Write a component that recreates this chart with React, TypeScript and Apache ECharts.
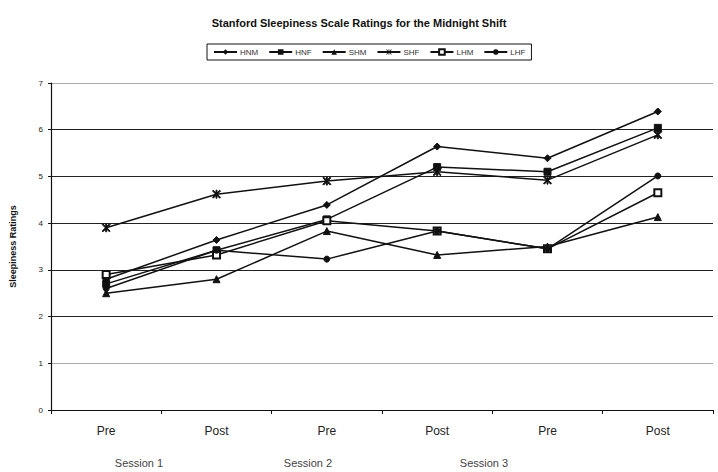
import React, { useEffect, useRef } from "react";
import * as echarts from "echarts";

const categories = ["Pre", "Post", "Pre", "Post", "Pre", "Post"];
const sessionLabels = ["Session 1", "Session 2", "Session 3"];
const yTicks = [0, 1, 2, 3, 4, 5, 6, 7];

const seriesNames = ["HNM", "HNF", "SHM", "SHF", "LHM", "LHF"];
const hnm = [2.8, 3.64, 4.39, 5.64, 5.39, 6.39];
const hnf = [2.7, 3.42, 4.08, 5.2, 5.1, 6.04];
const shm = [2.5, 2.8, 3.83, 3.32, 3.5, 4.13];
const shf = [3.9, 4.62, 4.9, 5.1, 4.92, 5.89];
const lhm = [2.9, 3.32, 4.05, 3.83, 3.45, 4.65];
const lhf = [2.6, 3.42, 3.23, 3.83, 3.45, 5.01];

const starPath =
  "path://M0,1 L1,0 L5,4 L9,0 L10,1 L6,5 L10,9 L9,10 L5,6 L1,10 L0,9 L4,5 Z M4.4,0 L5.6,0 L5.6,10 L4.4,10 Z";

export default function App() {
  const ref = useRef<HTMLDivElement>(null);
  useEffect(() => {
    document.body.style.margin = "0";
    if (!ref.current) return;
    const chart = echarts.init(ref.current, null, { renderer: "svg" });
    const values = [hnm, hnf, shm, shf, lhm, lhf];
    const symbols = ["diamond", "rect", "triangle", starPath, "emptyRect", "circle"];
    const sizes = [7, 7, 7, 8, 7, 6];
    const sessionX = [139, 308, 484];
    chart.setOption({
      animation: false,
      backgroundColor: "#fff",
      title: {
        text: "Stanford Sleepiness Scale Ratings for the Midnight Shift",
        left: "center",
        top: 12,
        textStyle: {
          fontFamily: "Liberation Sans, Arial, sans-serif",
          fontSize: 11,
          fontWeight: "bold",
          color: "#111",
        },
      },
      legend: {
        data: seriesNames,
        left: 207,
        top: 44,
        itemWidth: 23,
        itemHeight: 7,
        itemGap: 10,
        padding: [4, 6, 4, 6],
        borderColor: "#111",
        borderWidth: 1,
        textStyle: {
          fontFamily: "Liberation Sans, Arial, sans-serif",
          fontSize: 8,
          color: "#333",
          padding: [0, 0, 0, -2],
        },
      },
      grid: { left: 50, right: 5, top: 83, bottom: 62 },
      xAxis: {
        type: "category",
        data: categories,
        boundaryGap: true,
        axisLine: { lineStyle: { color: "#111", width: 1.2 } },
        axisTick: { show: true, length: 4, lineStyle: { color: "#111" } },
        axisLabel: {
          margin: 15,
          fontFamily: "Liberation Sans, Arial, sans-serif",
          fontSize: 12,
          color: "#222",
        },
      },
      yAxis: {
        type: "value",
        min: yTicks[0],
        max: yTicks[yTicks.length - 1],
        interval: 1,
        name: "Sleepiness Ratings",
        nameLocation: "middle",
        nameGap: 34,
        nameTextStyle: {
          fontFamily: "Liberation Sans, Arial, sans-serif",
          fontSize: 9,
          fontWeight: "bold",
          color: "#111",
        },
        axisLine: { show: true, lineStyle: { color: "#111", width: 1.2 } },
        axisTick: { show: true, length: 3, lineStyle: { color: "#111" } },
        axisLabel: {
          margin: 8,
          fontFamily: "Liberation Sans, Arial, sans-serif",
          fontSize: 8,
          color: "#222",
        },
        splitLine: {
          show: true,
          lineStyle: {
            color: ["#111", "#aaa", "#222", "#222", "#222", "#222", "#222", "#aaa"],
            width: 1.2,
          },
        },
      },
      graphic: sessionLabels.map((s, i) => ({
        type: "text",
        x: sessionX[i],
        y: 463,
        style: {
          text: s,
          align: "center",
          verticalAlign: "middle",
          fontFamily: "Liberation Sans, Arial, sans-serif",
          fontSize: 11,
          fill: "#444",
        },
      })),
      series: seriesNames.map((n, i) => ({
        name: n,
        type: "line",
        data: values[i],
        symbol: symbols[i],
        symbolSize: sizes[i],
        showAllSymbol: true,
        lineStyle: { color: "#111", width: 1.5 },
        itemStyle: { color: "#111", borderColor: "#111" },
      })),
    });
    return () => chart.dispose();
  }, []);
  return <div ref={ref} style={{ width: 718, height: 472 }} />;
}
